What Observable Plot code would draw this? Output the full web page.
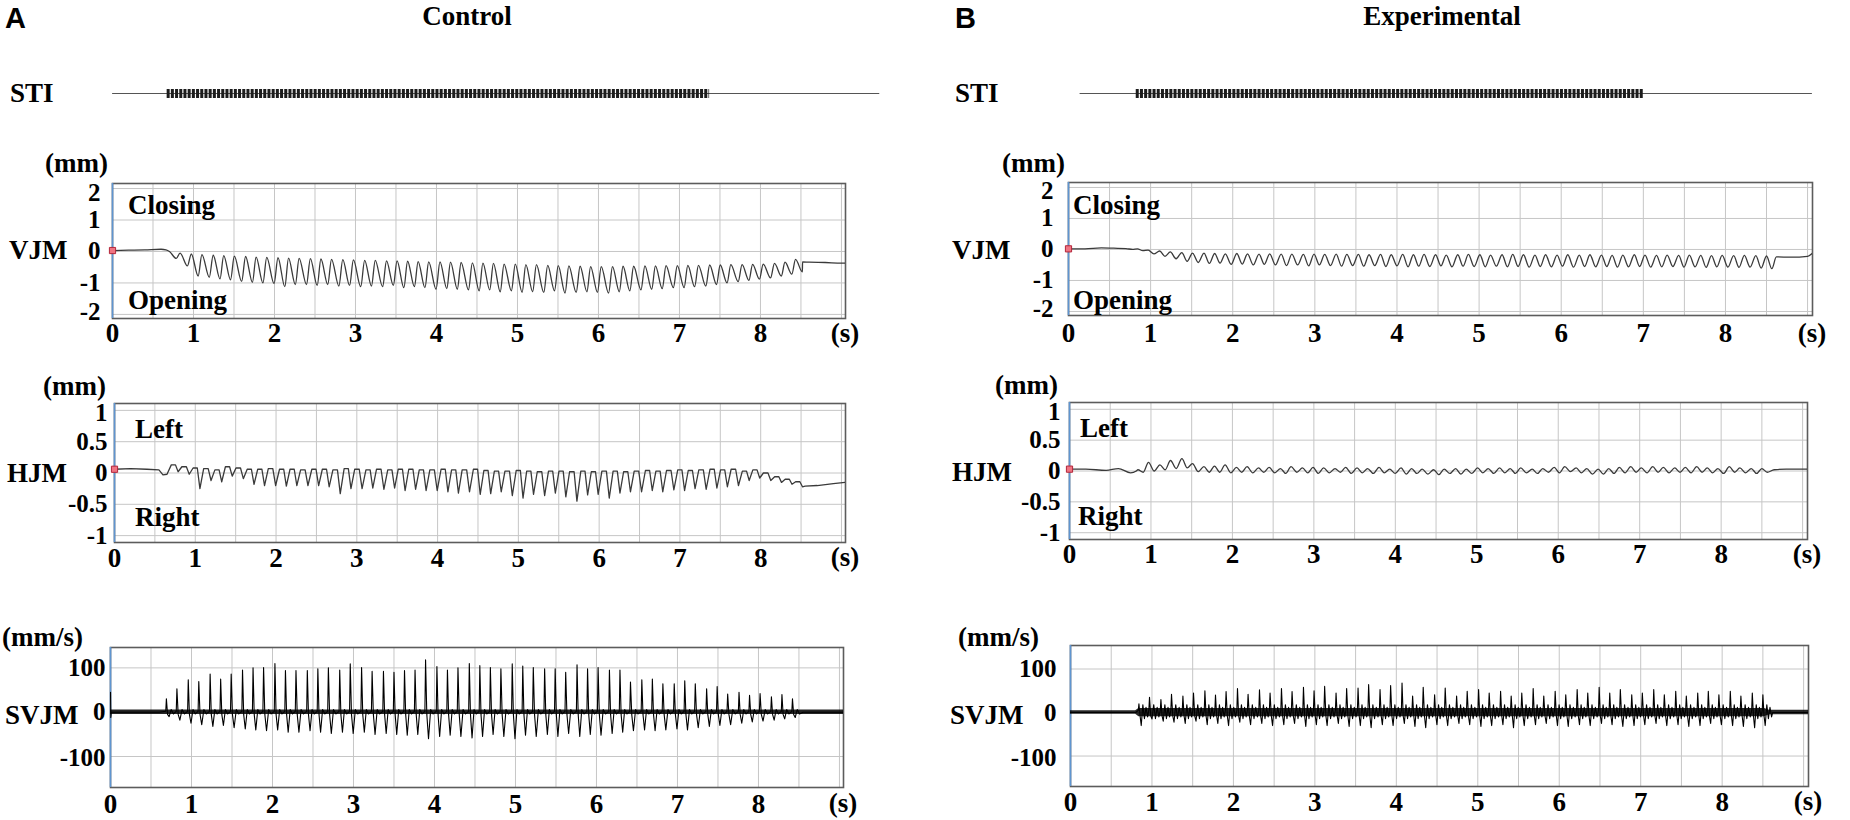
<!DOCTYPE html>
<html>
<head>
<meta charset="utf-8">
<script src="https://cdn.jsdelivr.net/npm/d3@7"></script>
<script src="https://cdn.jsdelivr.net/npm/@observablehq/plot@0.6"></script>
<style>
  html, body { margin: 0; padding: 0; background: #fff; }
  #fig { position: relative; width: 1850px; height: 820px; background: #fff; overflow: hidden; }
  .lbl { position: absolute; white-space: nowrap; line-height: 1; font-family: 'Liberation Serif', 'Times New Roman', serif; font-weight: bold; font-size: 27px; color: #000; }
  .panel { font-family: 'Liberation Sans', Arial, sans-serif; font-size: 29px; }
</style>
</head>
<body>
<div id="fig"></div>
<script>
// ---------------- DATA ----------------
const xTicks = [0, 1, 2, 3, 4, 5, 6, 7, 8];
const xGrid = [0.5, 1, 1.5, 2, 2.5, 3, 3.5, 4, 4.5, 5, 5.5, 6, 6.5, 7, 7.5, 8, 8.5, 9];
const vjmTicks = [2, 1, 0, -1, -2];
const hjmTicks = [1, 0.5, 0, -0.5, -1];
const svjmTicks = [100, 0, -100];

// STI (seconds)
const stiA_line = [0, 9.48];
const stiA_train = [0.67, 7.38];
const stiB_line = [0.14, 9.06];
const stiB_train = [0.82, 7.01];

// ---- Control (A): cycle times (s)
const tA = [0.69,0.82,0.96,1.09,1.23,1.36,1.49,1.63,1.76,1.89,
            2.03,2.16,2.29,2.43,2.56,2.69,2.83,2.96,3.10,3.23,
            3.37,3.50,3.63,3.76,3.89,4.03,4.16,4.29,4.43,4.56,
            4.69,4.82,4.96,5.09,5.22,5.36,5.49,5.62,5.76,5.89,
            6.02,6.16,6.29,6.42,6.56,6.69,6.82,6.96,7.09,7.22,
            7.36,7.49,7.62,7.76,7.89,8.02,8.16,8.29,8.42];
// VJM A (mm)
const vjmA_peak = [0.0,-0.05,-0.08,-0.1,-0.12,-0.13,-0.15,-0.16,-0.18,-0.19,
                   -0.2,-0.21,-0.22,-0.23,-0.24,-0.25,-0.26,-0.27,-0.28,-0.28,
                   -0.3,-0.3,-0.31,-0.32,-0.33,-0.33,-0.34,-0.35,-0.36,-0.37,
                   -0.38,-0.4,-0.4,-0.42,-0.42,-0.44,-0.45,-0.46,-0.47,-0.48,
                   -0.48,-0.48,-0.47,-0.47,-0.46,-0.46,-0.45,-0.45,-0.44,-0.44,
                   -0.43,-0.43,-0.42,-0.42,-0.41,-0.4,-0.38,-0.34,-0.25];
const vjmA_trough = [-0.22,-0.46,-0.78,-0.82,-0.87,-0.9,-0.95,-0.98,-1.0,-1.02,
                     -1.12,-1.05,-1.05,-1.08,-1.05,-1.1,-1.08,-1.12,-1.1,-1.12,
                     -1.08,-1.15,-1.12,-1.15,-1.2,-1.18,-1.2,-1.22,-1.25,-1.22,
                     -1.28,-1.25,-1.3,-1.28,-1.3,-1.25,-1.32,-1.3,-1.28,-1.3,
                     -1.32,-1.28,-1.25,-1.22,-1.2,-1.18,-1.15,-1.15,-1.12,-1.1,
                     -1.05,-1.0,-0.96,-0.92,-0.88,-0.84,-0.78,-0.72,-0.65];
const vjmA_preT = [0, 0.2, 0.4, 0.6, 0.66];
const vjmA_preV = [0.03, 0.04, 0.05, 0.07, 0.05];
const vjmA_postT = [8.52, 8.6, 8.8, 9.0, 9.05];
const vjmA_postV = [-0.33, -0.34, -0.35, -0.37, -0.37];
// HJM A (mm)
const hjmA_peak = [0.13,0.1,0.08,0.07,0.05,0.1,0.08,0.06,0.06,0.07,
                   0.06,0.06,0.05,0.06,0.06,0.05,0.07,0.06,0.05,0.06,
                   0.05,0.06,0.06,0.05,0.05,0.06,0.05,0.05,0.06,0.04,
                   0.03,0.03,0.04,0.03,0.02,0.03,0.03,0.02,0.03,0.02,
                   0.03,0.03,0.02,0.03,0.04,0.03,0.04,0.05,0.04,0.05,
                   0.06,0.05,0.06,0.03,0.05,0.0,-0.06,-0.1,-0.14];
const hjmA_trough = [0.02,-0.02,-0.25,-0.12,-0.14,-0.05,-0.09,-0.18,-0.2,-0.2,
                     -0.21,-0.2,-0.2,-0.2,-0.22,-0.33,-0.25,-0.25,-0.24,-0.26,
                     -0.24,-0.28,-0.26,-0.28,-0.28,-0.3,-0.32,-0.3,-0.34,-0.33,
                     -0.3,-0.36,-0.4,-0.34,-0.36,-0.32,-0.38,-0.45,-0.35,-0.34,
                     -0.4,-0.32,-0.3,-0.3,-0.28,-0.3,-0.27,-0.28,-0.25,-0.26,
                     -0.24,-0.22,-0.2,-0.12,-0.08,-0.12,-0.15,-0.18,-0.22];
const hjmA_preT = [0, 0.2, 0.4, 0.55, 0.6, 0.65];
const hjmA_preV = [0.06, 0.07, 0.06, 0.05, -0.03, -0.02];
const hjmA_postT = [8.55, 8.7, 8.9, 9.05];
const hjmA_postV = [-0.21, -0.2, -0.17, -0.15];
// SVJM A (mm/s)
const svjmA_peak = [30,53,73,69,86,75,86,95,100,101,
                    110,94,94,94,98,100,95,109,101,92,
                    92,90,94,95,118,103,95,100,110,105,
                    101,98,109,104,101,98,98,90,107,98,
                    101,95,95,68,73,75,64,64,71,64,
                    53,58,41,45,38,42,35,40,30];
const svjmA_neg = [-10,-18,-25,-28,-32,-30,-35,-38,-40,-42,
                   -40,-45,-45,-42,-45,-48,-45,-48,-45,-50,
                   -48,-50,-52,-50,-60,-55,-52,-55,-58,-55,
                   -50,-55,-60,-52,-55,-50,-55,-48,-55,-50,
                   -52,-48,-45,-42,-40,-42,-40,-38,-40,-35,
                   -32,-30,-28,-25,-22,-20,-18,-15,-12];
const svjmA_wiggle = [2, -5, 6, -4];
const svjmA_preT = [0, 0.004, 0.01, 0.6];
const svjmA_preV = [45, -12, 0, 0];
const svjmA_postT = [8.55, 9.05];
const svjmA_postV = [0, 0];
const noiseA_t = [0, 9.05];
const noiseA_lo = [-5, -5];
const noiseA_hi = [5, 5];

// ---- Experimental (B): cycle times (s)
const tB = [0.84,0.97,1.11,1.24,1.38,1.51,1.65,1.78,1.91,2.05,
            2.18,2.32,2.45,2.59,2.72,2.86,2.99,3.12,3.26,3.39,
            3.53,3.66,3.80,3.93,4.07,4.20,4.33,4.47,4.60,4.74,
            4.87,5.01,5.14,5.28,5.41,5.54,5.68,5.81,5.95,6.08,
            6.22,6.35,6.49,6.62,6.75,6.89,7.02,7.16,7.29,7.43,
            7.56,7.70,7.83,7.96,8.10,8.23,8.37,8.50];
const vjmB_peak = [0.02,-0.02,-0.05,-0.08,-0.1,-0.12,-0.12,-0.13,-0.14,-0.13,
                   -0.14,-0.15,-0.14,-0.15,-0.15,-0.16,-0.15,-0.16,-0.15,-0.16,
                   -0.16,-0.17,-0.16,-0.17,-0.16,-0.17,-0.16,-0.17,-0.18,-0.17,
                   -0.16,-0.17,-0.18,-0.17,-0.16,-0.17,-0.18,-0.17,-0.18,-0.17,
                   -0.18,-0.17,-0.18,-0.19,-0.18,-0.17,-0.18,-0.19,-0.18,-0.19,
                   -0.18,-0.19,-0.2,-0.19,-0.2,-0.19,-0.2,-0.21];
const vjmB_trough = [-0.04,-0.14,-0.22,-0.3,-0.38,-0.42,-0.45,-0.44,-0.48,-0.47,
                     -0.5,-0.48,-0.5,-0.52,-0.5,-0.53,-0.5,-0.52,-0.54,-0.52,
                     -0.54,-0.52,-0.55,-0.53,-0.56,-0.54,-0.55,-0.53,-0.56,-0.54,
                     -0.55,-0.56,-0.54,-0.56,-0.55,-0.57,-0.55,-0.56,-0.54,-0.57,
                     -0.55,-0.56,-0.55,-0.57,-0.56,-0.55,-0.57,-0.56,-0.55,-0.57,
                     -0.56,-0.58,-0.56,-0.57,-0.58,-0.57,-0.6,-0.62];
const vjmB_preT = [0, 0.2, 0.4, 0.55, 0.7, 0.78];
const vjmB_preV = [0.02, 0.02, 0.05, 0.04, 0.03, 0.0];
const vjmB_postT = [8.62, 8.8, 9.0, 9.06];
const vjmB_postV = [-0.24, -0.25, -0.22, -0.12];
const hjmB_peak = [0.02,0.14,0.1,0.17,0.2,0.12,0.07,0.08,0.1,0.06,
                   0.07,0.05,0.06,0.04,0.07,0.05,0.06,0.05,0.04,0.06,
                   0.05,0.04,0.06,0.03,0.05,0.04,0.03,0.02,0.03,0.04,
                   0.03,0.05,0.04,0.05,0.04,0.05,0.03,0.04,0.06,0.07,
                   0.05,0.04,0.03,0.04,0.06,0.07,0.05,0.07,0.06,0.05,
                   0.06,0.07,0.05,0.04,0.07,0.05,0.04,0.04];
const hjmB_trough = [-0.02,0.0,0.02,0.04,0.05,-0.01,-0.02,-0.02,-0.03,-0.02,
                     -0.03,-0.02,-0.03,-0.04,-0.02,-0.03,-0.04,-0.03,-0.02,-0.04,
                     -0.03,-0.04,-0.03,-0.04,-0.05,-0.04,-0.05,-0.06,-0.04,-0.05,
                     -0.04,-0.03,-0.04,-0.03,-0.04,-0.03,-0.04,-0.02,-0.03,-0.01,
                     -0.03,-0.05,-0.05,-0.04,-0.03,-0.02,-0.03,-0.02,-0.03,-0.02,
                     -0.03,-0.02,-0.03,-0.04,-0.02,-0.03,-0.04,-0.02];
const hjmB_preT = [0, 0.2, 0.45, 0.6, 0.75, 0.82];
const hjmB_preV = [0.03, 0.03, 0.01, 0.04, -0.03, 0.0];
const hjmB_postT = [8.65, 8.8, 9.06];
const hjmB_postV = [0.02, 0.03, 0.03];
const svjmB_peak = [20,35,30,42,38,45,50,40,48,55,
                    42,52,45,55,48,58,50,60,45,55,
                    56,64,53,62,68,38,58,41,56,38,
                    49,53,45,49,38,45,55,38,49,41,
                    53,45,58,45,53,41,45,53,41,49,
                    38,45,49,41,49,38,45,41];
const svjmB_neg = [-30,-15,-20,-22,-25,-20,-28,-25,-30,-22,
                   -28,-25,-30,-28,-25,-32,-28,-30,-25,-32,
                   -30,-35,-28,-30,-25,-32,-35,-28,-30,-25,
                   -28,-32,-30,-28,-35,-30,-28,-25,-30,-32,
                   -28,-30,-25,-28,-32,-30,-28,-25,-30,-28,
                   -32,-30,-25,-28,-30,-32,-35,-30];
const svjmB_wiggle = [5, -8, 18, -14, 12, -10];
const svjmB_preT = [0, 0.8];
const svjmB_preV = [0, 0];
const svjmB_postT = [8.62, 9.06];
const svjmB_postV = [0, 0];
const noiseB_t = [0, 0.8, 0.84, 8.52, 8.58, 9.06];
const noiseB_lo = [-4, -4, -10, -10, -5, -5];
const noiseB_hi = [4, 4, 9, 9, 5, 5];

// ---------------- BUILD TABLES ----------------
function seg(ts, vs) { return ts.map((t, i) => ({t, v: vs[i]})); }
function period(times, i) {
  return i < times.length - 1 ? times[i + 1] - times[i] : times[i] - times[i - 1];
}
// one point per phase of every cycle; vals[k] is an array (per cycle) or a constant
function cycles(times, phases, vals) {
  const out = [];
  times.forEach((t, i) => {
    const T = period(times, i);
    phases.forEach((p, k) => {
      const v = Array.isArray(vals[k]) ? vals[k][i] : vals[k];
      out.push({t: t + p * T, v});
    });
  });
  return out;
}
const vjmA = [...seg(vjmA_preT, vjmA_preV), ...cycles(tA, [0.1, 0.75], [vjmA_peak, vjmA_trough]), ...seg(vjmA_postT, vjmA_postV)];
const hjmA = [...seg(hjmA_preT, hjmA_preV), ...cycles(tA, [0.1, 0.5, 0.75], [hjmA_peak, hjmA_peak, hjmA_trough]), ...seg(hjmA_postT, hjmA_postV)];
const svjmA = [...seg(svjmA_preT, svjmA_preV),
  ...cycles(tA, [-0.06, 0, 0.11, 0.26, 0.45, 0.67], [svjmA_wiggle[0], svjmA_peak, svjmA_wiggle[1], svjmA_neg, svjmA_wiggle[2], svjmA_wiggle[3]]),
  ...seg(svjmA_postT, svjmA_postV)];
const vjmB = [...seg(vjmB_preT, vjmB_preV), ...cycles(tB, [0, 0.5], [vjmB_peak, vjmB_trough]), ...seg(vjmB_postT, vjmB_postV)];
const hjmB = [...seg(hjmB_preT, hjmB_preV), ...cycles(tB, [0, 0.5], [hjmB_peak, hjmB_trough]), ...seg(hjmB_postT, hjmB_postV)];
const svjmB = [...seg(svjmB_preT, svjmB_preV),
  ...cycles(tB, [-0.06, 0, 0.11, 0.22, 0.37, 0.52, 0.67, 0.82], [svjmB_wiggle[0], svjmB_peak, svjmB_wiggle[1], svjmB_neg, svjmB_wiggle[2], svjmB_wiggle[3], svjmB_wiggle[4], svjmB_wiggle[5]]),
  ...seg(svjmB_postT, svjmB_postV)];
const bandA = noiseA_t.map((t, i) => ({t, lo: noiseA_lo[i], hi: noiseA_hi[i]}));
const bandB = noiseB_t.map((t, i) => ({t, lo: noiseB_lo[i], hi: noiseB_hi[i]}));

// ---------------- DRAW ----------------
const fig = document.getElementById("fig");
const FONT = "'Liberation Serif','Times New Roman',serif";
const plotStyle = {fontFamily: FONT, fontSize: "27px", fontWeight: "bold", color: "#000", background: "none", overflow: "visible"};
const xAxisText = {fontSize: 27, fontWeight: "bold", fontFamily: FONT, fill: "#000"};
const yAxisText = {fontSize: 25, fontWeight: "bold", fontFamily: FONT, fill: "#000"};

function makePlot(cfg) {
  const [L, T, R, B] = cfg.frame;
  const mL = 110, mR = 40, mT = 14, mB = 44;
  const withAxes = cfg.axes !== false;
  const marks = [];
  if (withAxes) {
    const yt = cfg.yTicks;
    const top = yt[0], bottom = yt[yt.length - 1];
    marks.push(Plot.gridX({ticks: xGrid, stroke: "#c6c6c6", strokeOpacity: 1, strokeWidth: 1}));
    marks.push(Plot.gridY({ticks: yt, stroke: "#c6c6c6", strokeOpacity: 1, strokeWidth: 1}));
    marks.push(Plot.frame({stroke: "#5c5c5c", strokeWidth: 1.6}));
    marks.push(Plot.ruleX([cfg.xDomain[0]], {stroke: "#5f95d0", strokeWidth: 1.6}));
    marks.push(Plot.axisX({ticks: xTicks, tickSize: 0, tickPadding: cfg.xPad, tickFormat: d => String(d), label: null, ...xAxisText}));
    // inner tick labels at their values; outermost ones nudged inside like the original
    marks.push(Plot.axisY({ticks: yt.slice(1, -1), tickSize: 0, tickPadding: cfg.yPad, tickFormat: d => String(d), label: null, ...yAxisText}));
    marks.push(Plot.axisY({ticks: [top], tickSize: 0, tickPadding: cfg.yPad, tickFormat: d => String(d), label: null, dy: cfg.topDy, ...yAxisText}));
    marks.push(Plot.axisY({ticks: [bottom], tickSize: 0, tickPadding: cfg.yPad, tickFormat: d => String(d), label: null, dy: cfg.botDy, ...yAxisText}));
  }
  marks.push(...cfg.marks);
  const svg = Plot.plot({
    width: R - L + mL + mR, height: B - T + mT + mB,
    marginLeft: mL, marginRight: mR, marginTop: mT, marginBottom: mB,
    x: withAxes ? {domain: cfg.xDomain} : {domain: cfg.xDomain, axis: null},
    y: withAxes ? {domain: cfg.yDomain} : {domain: cfg.yDomain, axis: null},
    style: plotStyle,
    marks
  });
  svg.style.position = "absolute";
  svg.style.left = (L - mL) + "px";
  svg.style.top = (T - mT) + "px";
  fig.appendChild(svg);
}

function label(text, x, y, anchor = "start", cls = "") {
  const d = document.createElement("div");
  d.className = "lbl " + cls;
  d.textContent = text;
  const tx = anchor === "middle" ? "-50%" : anchor === "end" ? "-100%" : "0";
  d.style.left = x + "px";
  d.style.top = y + "px";
  d.style.transform = `translate(${tx}, -50%)`;
  fig.appendChild(d);
}

const traceLine = (data, curve) => Plot.line(data, {x: "t", y: "v", stroke: "#3a3a3a", strokeWidth: 1.3, curve, clip: true});
const marker = (data) => Plot.dot([data[0]], {x: "t", y: "v", symbol: "square", r: 3.5, fill: "#ef7482", stroke: "#b3263a", strokeWidth: 1});
const svjmMarks = (band, data) => [
  Plot.areaY(band, {x: "t", y1: "lo", y2: "hi", fill: "#000", fillOpacity: 0.85}),
  Plot.line(data, {x: "t", y: "v", stroke: "#000", strokeWidth: 1.1, clip: true})
];
const stiMarks = (line, train) => [
  Plot.line(seg(line, [0, 0]), {x: "t", y: "v", stroke: "#555", strokeWidth: 1}),
  Plot.line(seg(train, [0, 0]), {x: "t", y: "v", stroke: "#1c1c1c", strokeWidth: 9, strokeDasharray: "3,1.2", strokeLinecap: "butt"})
];

// Panel A
makePlot({frame: [112, 83, 880, 103], xDomain: [0, 9.5], yDomain: [-1, 1], axes: false, marks: stiMarks(stiA_line, stiA_train)});
makePlot({frame: [112, 183, 845, 318], xDomain: [0, 9.05], yDomain: [-2.13, 2.16], yTicks: vjmTicks, xPad: 4, yPad: 12, topDy: 4, botDy: -2,
  marks: [traceLine(vjmA, "monotone-x"), marker(vjmA)]});
makePlot({frame: [114, 403, 845, 542], xDomain: [0, 9.05], yDomain: [-1.11, 1.11], yTicks: hjmTicks, xPad: 5, yPad: 7, topDy: 3, botDy: 0,
  marks: [traceLine(hjmA, "linear"), marker(hjmA)]});
makePlot({frame: [110, 647, 843, 787], xDomain: [0, 9.05], yDomain: [-170, 146], yTicks: svjmTicks, xPad: 6, yPad: 5, topDy: 0, botDy: 2,
  marks: svjmMarks(bandA, svjmA)});

// Panel B
makePlot({frame: [1068, 83, 1811, 103], xDomain: [0, 9.06], yDomain: [-1, 1], axes: false, marks: stiMarks(stiB_line, stiB_train)});
makePlot({frame: [1068, 182, 1812, 315], xDomain: [0, 9.06], yDomain: [-2.13, 2.16], yTicks: vjmTicks, xPad: 7, yPad: 15, topDy: 4, botDy: -2,
  marks: [traceLine(vjmB, "monotone-x"), marker(vjmB)]});
makePlot({frame: [1069, 402, 1807, 539], xDomain: [0, 9.06], yDomain: [-1.11, 1.11], yTicks: hjmTicks, xPad: 4, yPad: 9, topDy: 3, botDy: 0,
  marks: [traceLine(hjmB, "monotone-x"), marker(hjmB)]});
makePlot({frame: [1070, 645, 1808, 786], xDomain: [0, 9.06], yDomain: [-170, 154], yTicks: svjmTicks, xPad: 5, yPad: 14, topDy: 0, botDy: 2,
  marks: svjmMarks(bandB, svjmB)});

// Text labels
label("A", 5, 18, "start", "panel");
label("Control", 467, 16, "middle");
label("STI", 10, 93);
label("(mm)", 45, 163);
label("VJM", 9, 250);
label("Closing", 128, 205);
label("Opening", 128, 300);
label("(s)", 845, 333, "middle");
label("(mm)", 43, 386);
label("HJM", 7, 473);
label("Left", 135, 429);
label("Right", 135, 517);
label("(s)", 845, 557, "middle");
label("(mm/s)", 2, 637);
label("SVJM", 5, 715);
label("(s)", 843, 803, "middle");

label("B", 955, 18, "start", "panel");
label("Experimental", 1442, 16, "middle");
label("STI", 955, 93);
label("(mm)", 1002, 163);
label("VJM", 952, 250);
label("Closing", 1073, 205);
label("Opening", 1073, 300);
label("(s)", 1812, 333, "middle");
label("(mm)", 995, 385);
label("HJM", 952, 472);
label("Left", 1080, 428);
label("Right", 1078, 516);
label("(s)", 1807, 554, "middle");
label("(mm/s)", 958, 637);
label("SVJM", 950, 715);
label("(s)", 1808, 801, "middle");
</script>
</body>
</html>
